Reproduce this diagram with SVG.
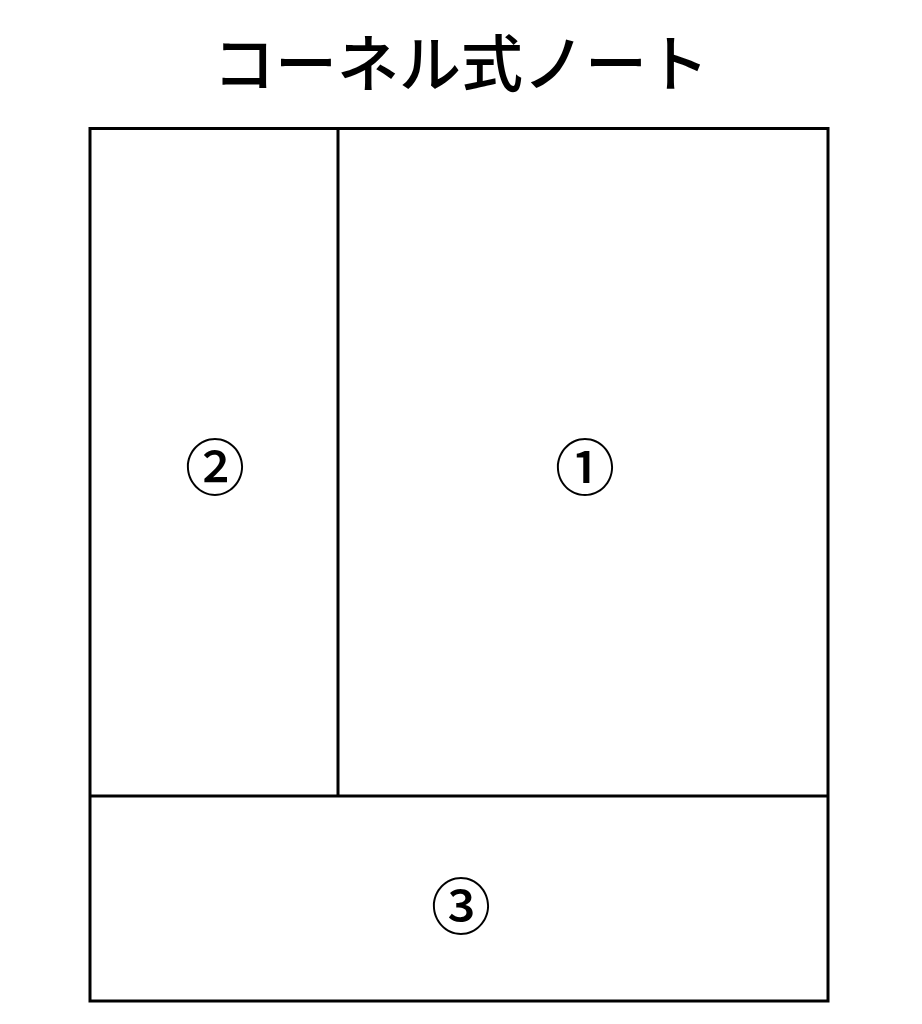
<svg xmlns="http://www.w3.org/2000/svg" width="922" height="1024" viewBox="0 0 922 1024">
<style>
.t{font-family:"Noto Sans CJK JP","Noto Sans",sans-serif;fill:#000;text-anchor:middle}
.n{font-size:60px;font-weight:500}
.ln{fill:none;stroke:#000;stroke-width:3}
</style>
<rect width="922" height="1024" fill="#fff"/>
<text class="t" x="461" y="87" font-size="62" font-weight="500">コーネル式ノート</text>
<g id="connectors">
<rect class="ln" x="90" y="128.5" width="738" height="872.5"/>
<line class="ln" x1="338" y1="128.5" x2="338" y2="796"/>
<line class="ln" x1="90" y1="796" x2="828" y2="796"/>
</g>
<g id="n2"><text class="t n" x="215" y="490">②</text></g>
<g id="n1"><text class="t n" x="585" y="490">①</text></g>
<g id="n3"><text class="t n" x="461" y="929">③</text></g>
</svg>
